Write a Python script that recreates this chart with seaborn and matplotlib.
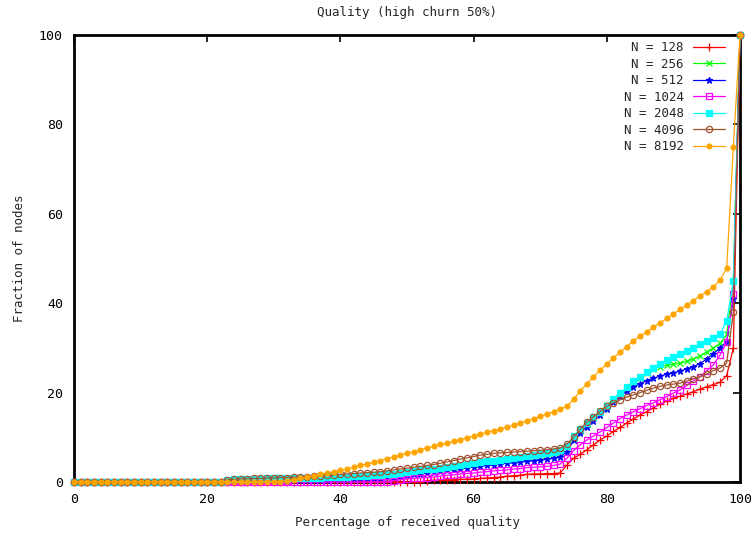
import matplotlib
matplotlib.use("Agg")
import matplotlib.pyplot as plt
import seaborn as sns
import pandas as pd

# Cumulative fraction of nodes (%) vs. percentage of received quality, x = 0..100 step 1.
# Each tail lists the values up to x = 100; everything before the tail is zero.
pct = list(range(101))

n128_tail = [0.3, 0.4, 0.4, 0.5, 0.5, 0.6, 0.6, 0.7, 0.8, 0.9, 1.0, 1.1, 1.3, 1.4, 1.5, 1.7,
             1.8, 1.8, 1.9, 1.9, 2.0, 3.8, 5.3, 6.2, 7.2, 8.3, 9.4, 10.3, 11.3, 12.2, 13.2, 14.1,
             15.0, 15.7, 16.6, 17.4, 18.1, 18.7, 19.2, 19.7, 20.2, 20.8, 21.3, 21.8, 22.3, 23.8,
             30.0, 100.0]
n256_tail = [0.3, 0.4, 0.4, 0.5, 0.5, 0.5, 0.6, 0.6, 0.6, 0.7, 0.7, 0.7, 0.8, 0.8, 0.9, 0.9,
             1.0, 1.0, 1.1, 1.2, 1.3, 1.4, 1.5, 1.6, 1.8, 2.0, 2.2, 2.4, 2.6, 2.8, 3.0, 3.2,
             3.4, 3.6, 3.8, 4.0, 4.2, 4.4, 4.6, 4.8, 5.0, 5.2, 5.4, 5.6, 5.8, 6.0, 6.2, 6.4,
             6.7, 7.8, 9.8, 11.5, 13.0, 14.5, 15.8, 17.2, 18.6, 19.9, 21.0, 22.0, 23.2, 24.4,
             25.3, 25.8, 26.1, 26.3, 26.6, 27.0, 27.5, 28.2, 29.1, 30.0, 31.0, 33.0, 45.0, 100.0]
n512_tail = [0.2, 0.2, 0.3, 0.3, 0.3, 0.4, 0.4, 0.4, 0.5, 0.5, 0.5, 0.6, 0.6, 0.7, 0.7, 0.8,
             0.8, 0.9, 1.0, 1.1, 1.2, 1.4, 1.5, 1.7, 1.8, 2.0, 2.2, 2.4, 2.6, 2.8, 3.0, 3.2,
             3.3, 3.5, 3.7, 3.8, 4.0, 4.2, 4.3, 4.5, 4.6, 4.8, 4.9, 5.1, 5.3, 5.6, 6.8, 9.3,
             11.0, 12.3, 13.6, 15.0, 16.4, 17.9, 19.2, 20.3, 21.2, 22.0, 22.7, 23.2, 23.7, 24.1,
             24.4, 24.8, 25.3, 25.8, 26.5, 27.5, 28.7, 30.0, 31.4, 41.0, 100.0]
n1024_tail = [0.3, 0.5, 0.7, 0.8, 0.9, 1.0, 1.1, 1.3, 1.5, 1.6, 1.8, 1.9, 2.0, 2.2, 2.3, 2.5,
              2.6, 2.7, 2.9, 3.0, 3.2, 3.3, 3.4, 3.5, 3.7, 4.0, 5.3, 7.0, 8.3, 9.4, 10.3, 11.2,
              12.2, 13.2, 14.2, 15.0, 15.7, 16.4, 17.1, 17.7, 18.4, 19.1, 19.9, 20.6, 21.6, 22.6,
              23.6, 24.9, 26.2, 28.4, 31.3, 42.0, 100.0]
n2048_tail = [0.5, 0.6, 0.6, 0.7, 0.7, 0.7, 0.8, 0.8, 0.8, 0.9, 0.9, 0.9, 1.0, 1.0, 1.0, 1.1,
              1.1, 1.2, 1.2, 1.3, 1.3, 1.4, 1.5, 1.6, 1.7, 1.9, 2.0, 2.2, 2.4, 2.6, 2.8, 3.0,
              3.2, 3.4, 3.6, 3.8, 4.0, 4.2, 4.4, 4.6, 4.8, 5.0, 5.2, 5.4, 5.6, 5.8, 6.0, 6.2,
              6.5, 6.8, 7.1, 8.0, 10.2, 11.8, 13.2, 14.5, 15.6, 17.0, 18.5, 19.9, 21.2, 22.5,
              23.5, 24.5, 25.5, 26.4, 27.3, 28.0, 28.7, 29.4, 30.0, 30.8, 31.5, 32.2, 33.2, 36.0,
              45.0, 100.0]
n4096_tail = [0.5, 0.6, 0.7, 0.7, 0.8, 0.8, 0.9, 0.9, 1.0, 1.0, 1.1, 1.1, 1.2, 1.3, 1.4, 1.5,
              1.6, 1.7, 1.8, 1.9, 2.0, 2.1, 2.2, 2.3, 2.5, 2.7, 2.9, 3.1, 3.3, 3.5, 3.7, 3.9,
              4.2, 4.5, 4.8, 5.1, 5.4, 5.7, 6.0, 6.2, 6.4, 6.5, 6.6, 6.7, 6.8, 6.9, 7.0, 7.1,
              7.2, 7.4, 7.6, 8.5, 10.0, 11.8, 13.4, 14.6, 15.8, 16.9, 17.7, 18.4, 19.0, 19.5,
              20.0, 20.5, 21.0, 21.4, 21.7, 21.9, 22.1, 22.6, 23.1, 23.5, 24.2, 24.9, 25.5, 26.6,
              38.0, 100.0]
n8192_tail = [0.1, 0.3, 0.5, 0.8, 1.1, 1.4, 1.7, 2.0, 2.3, 2.6, 2.9, 3.3, 3.7, 4.0, 4.4, 4.8,
              5.2, 5.6, 6.0, 6.4, 6.8, 7.2, 7.6, 8.0, 8.4, 8.7, 9.1, 9.5, 9.9, 10.3, 10.7, 11.1,
              11.5, 11.9, 12.3, 12.7, 13.2, 13.7, 14.2, 14.7, 15.2, 15.7, 16.3, 16.9, 18.5, 20.3,
              22.0, 23.5, 25.0, 26.4, 27.8, 29.0, 30.3, 31.6, 32.6, 33.6, 34.6, 35.6, 36.6, 37.6,
              38.6, 39.6, 40.6, 41.6, 42.6, 43.6, 45.2, 47.8, 75.0, 100.0]

labels = ["N = 128", "N = 256", "N = 512", "N = 1024", "N = 2048", "N = 4096", "N = 8192"]
tails = [n128_tail, n256_tail, n512_tail, n1024_tail, n2048_tail, n4096_tail, n8192_tail]

colors = ["#ff0000", "#00ff00", "#0000ff", "#ff00ff", "#00ffff", "#a0522d", "#ffa500"]
markers = ["+", "x", "*", "s", "s", "o", "o"]
filled = [True, True, True, False, True, False, True]
msizes = [6, 5, 5, 4.5, 4.5, 4.5, 3.5]

frames = []
for lab, tail in zip(labels, tails):
    vals = [0.0] * (len(pct) - len(tail)) + tail
    frames.append(pd.DataFrame({"quality": pct, "fraction": vals, "series": lab}))
df = pd.concat(frames, ignore_index=True)

sns.set_style("white")
plt.rcParams["font.family"] = ["DejaVu Sans Mono"]

fig = plt.figure(figsize=(7.51, 5.34), dpi=100)
ax = fig.add_axes([74 / 751, 1 - 482 / 534, 666 / 751, 447 / 534])

for lab, col, mk, fl, ms in zip(labels, colors, markers, filled, msizes):
    sub = df[df["series"] == lab]
    sns.lineplot(data=sub, x="quality", y="fraction", ax=ax, color=col, label=lab,
                 marker=mk, markersize=ms, markeredgewidth=0.9,
                 markerfacecolor=(col if fl else "none"), markeredgecolor=col,
                 linewidth=0.9, clip_on=False, estimator=None, sort=False)

ax.set_xlim(0, 100)
ax.set_ylim(0, 100)
ax.set_xticks([0, 20, 40, 60, 80, 100])
ax.set_yticks([0, 20, 40, 60, 80, 100])
ax.tick_params(direction="in", length=5, width=1.2, top=True, right=True,
               labelsize=9.5, colors="black", pad=8)
for s in ax.spines.values():
    s.set_visible(True)
    s.set_color("black")
    s.set_linewidth(2.0)
    s.set_zorder(1)

ax.set_xlabel("Percentage of received quality", fontsize=9, labelpad=7)
ax.set_ylabel("Fraction of nodes", fontsize=9, labelpad=9)
ax.set_title("Quality (high churn 50%)", fontsize=9, pad=14)

leg = ax.legend(loc="upper right", bbox_to_anchor=(0.987, 1.0), frameon=False,
                markerfirst=False, fontsize=9, handlelength=2.6, handletextpad=0.7,
                labelspacing=0.28, borderaxespad=0.1)
for t in leg.get_texts():
    t.set_ha("right")

fig.savefig("out.png", dpi=100)
